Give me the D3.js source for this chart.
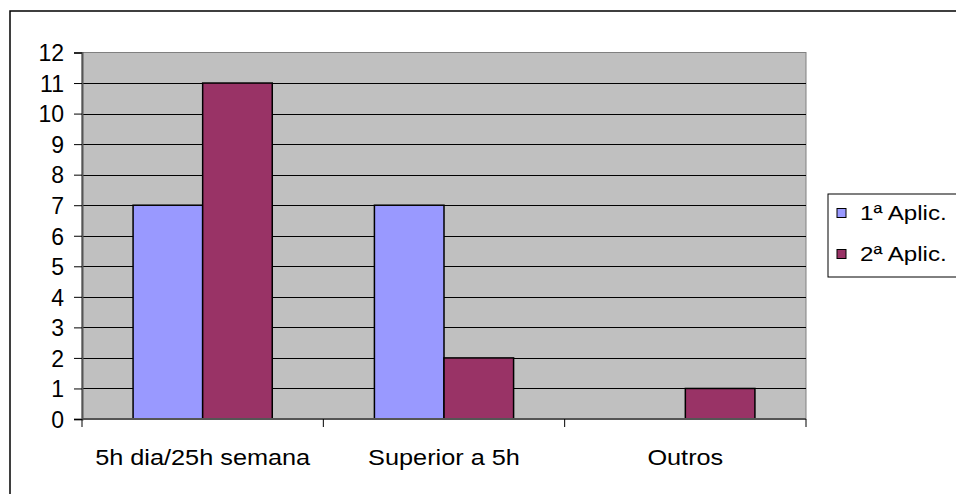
<!DOCTYPE html>
<html>
<head>
	<title>aplicacoes</title>
	<script src="https://cdn.jsdelivr.net/npm/d3@7"></script>
	<style>
		body { margin: 0; background-color: white; }
		text { font-family: 'Liberation Sans', Arial, sans-serif; fill: black; }
	</style>
</head>
<body>

<div id="dataviz"></div>

<script>

	var categories = ['5h dia/25h semana', 'Superior a 5h', 'Outros'];
	var seriesNames = ['1\u00aa Aplic.', '2\u00aa Aplic.'];
	var aplic1 = [7, 7, 0];
	var aplic2 = [11, 2, 1];
	var yTicks = [0, 1, 2, 3, 4, 5, 6, 7, 8, 9, 10, 11, 12];

	var colors = ['#9999FF', '#993366'];
	var seriesValues = [aplic1, aplic2];

	var width = 956;
	var height = 494;
	var stretch = 1.15; // the original text is a bit wide

	var plotLeft = 82;
	var plotRight = 806;
	var plotTop = 52.5;
	var plotBottom = 419;

	var svg = d3.select('#dataviz')
		.append('svg')
		.attr('width', width)
		.attr('height', height);

	// outer chart frame
	svg.append('rect')
		.attr('x', 10)
		.attr('y', 11)
		.attr('width', 980)
		.attr('height', 520)
		.attr('fill', 'white')
		.attr('stroke', 'black')
		.attr('stroke-width', 1.5);

	var y = d3.scaleLinear()
		.domain([0, 12])
		.range([plotBottom, plotTop]);

	var x0 = d3.scaleBand()
		.domain(categories)
		.range([plotLeft, plotRight])
		.paddingInner(0)
		.paddingOuter(0);

	var x1 = d3.scaleBand()
		.domain(d3.range(seriesNames.length))
		.range([0, x0.bandwidth()])
		.paddingInner(0)
		.paddingOuter(0.734);

	// plot background
	svg.append('rect')
		.attr('x', plotLeft)
		.attr('y', plotTop)
		.attr('width', plotRight - plotLeft)
		.attr('height', plotBottom - plotTop)
		.attr('fill', '#C0C0C0')
		.attr('stroke', '#808080')
		.attr('stroke-width', 1);

	// gridlines
	svg.selectAll('.grid')
		.data(yTicks.filter(function(d){ return d > 0 && d < 12; }))
		.enter()
		.append('line')
		.attr('class', 'grid')
		.attr('x1', plotLeft)
		.attr('x2', plotRight)
		.attr('y1', function(d){ return Math.round(y(d)) + 0.5; })
		.attr('y2', function(d){ return Math.round(y(d)) + 0.5; })
		.attr('stroke', 'black')
		.attr('stroke-width', 1);

	// bars
	var rows = categories.map(function(c, i){
		return seriesValues.map(function(s, j){ return { cat: c, s: j, value: s[i] }; });
	});

	svg.selectAll('.group')
		.data(rows)
		.enter()
		.append('g')
		.attr('class', 'group')
		.attr('transform', function(d, i){ return 'translate(' + x0(categories[i]) + ',0)'; })
		.selectAll('rect')
		.data(function(d){ return d.filter(function(e){ return e.value > 0; }); })
		.enter()
		.append('rect')
		.attr('x', function(d){ return x1(d.s); })
		.attr('y', function(d){ return y(d.value); })
		.attr('width', x1.bandwidth())
		.attr('height', function(d){ return y(0) - y(d.value); })
		.attr('fill', function(d){ return colors[d.s]; })
		.attr('stroke', 'black')
		.attr('stroke-width', 1.5);

	// y axis
	var yAxis = d3.axisLeft(y)
		.tickValues(yTicks)
		.tickSize(8)
		.tickPadding(10)
		.tickFormat(d3.format('d'));

	var gy = svg.append('g')
		.attr('transform', 'translate(' + plotLeft + ',0)')
		.attr('font-size', 23)
		.call(yAxis);

	gy.select('.domain').attr('stroke', '#555').attr('stroke-width', 2);
	gy.selectAll('.tick line').attr('stroke', 'black');
	gy.selectAll('.tick text')
		.attr('font-size', 23)
		.attr('font-family', "'Liberation Sans', Arial, sans-serif")
		.attr('fill', 'black')
		.attr('dy', '0.36em');

	// x axis: ticks on category boundaries
	var gx = svg.append('g');

	gx.append('line')
		.attr('x1', plotLeft)
		.attr('x2', plotRight)
		.attr('y1', plotBottom)
		.attr('y2', plotBottom)
		.attr('stroke', '#555')
		.attr('stroke-width', 2);

	var bounds = categories.map(function(c){ return x0(c); }).concat([plotRight]);

	gx.selectAll('.xtick')
		.data(bounds)
		.enter()
		.append('line')
		.attr('class', 'xtick')
		.attr('x1', function(d){ return d; })
		.attr('x2', function(d){ return d; })
		.attr('y1', plotBottom)
		.attr('y2', plotBottom + 8)
		.attr('stroke', 'black');

	gx.selectAll('.xlabel')
		.data(categories)
		.enter()
		.append('text')
		.attr('class', 'xlabel')
		.attr('text-anchor', 'middle')
		.attr('font-size', 22)
		.attr('transform', function(d){
			return 'translate(' + (x0(d) + x0.bandwidth() / 2) + ',465) scale(' + stretch + ',1)';
		})
		.text(function(d){ return d; });

	// legend
	var legend = svg.append('g');

	legend.append('rect')
		.attr('x', 828)
		.attr('y', 194)
		.attr('width', 140)
		.attr('height', 83)
		.attr('fill', 'white')
		.attr('stroke', 'black')
		.attr('stroke-width', 1);

	var items = legend.selectAll('.item')
		.data(seriesNames)
		.enter()
		.append('g')
		.attr('class', 'item')
		.attr('transform', function(d, i){ return 'translate(837,' + (213 + i * 41) + ')'; });

	items.append('rect')
		.attr('x', 0)
		.attr('y', -4.5)
		.attr('width', 9)
		.attr('height', 9)
		.attr('fill', function(d, i){ return colors[i]; })
		.attr('stroke', 'black')
		.attr('stroke-width', 1);

	items.append('text')
		.attr('x', 0)
		.attr('y', 0)
		.attr('dy', '0.35em')
		.attr('font-size', 21)
		.attr('transform', 'translate(23,0) scale(' + stretch + ',1)')
		.text(function(d){ return d; });

</script>
</body>
</html>
